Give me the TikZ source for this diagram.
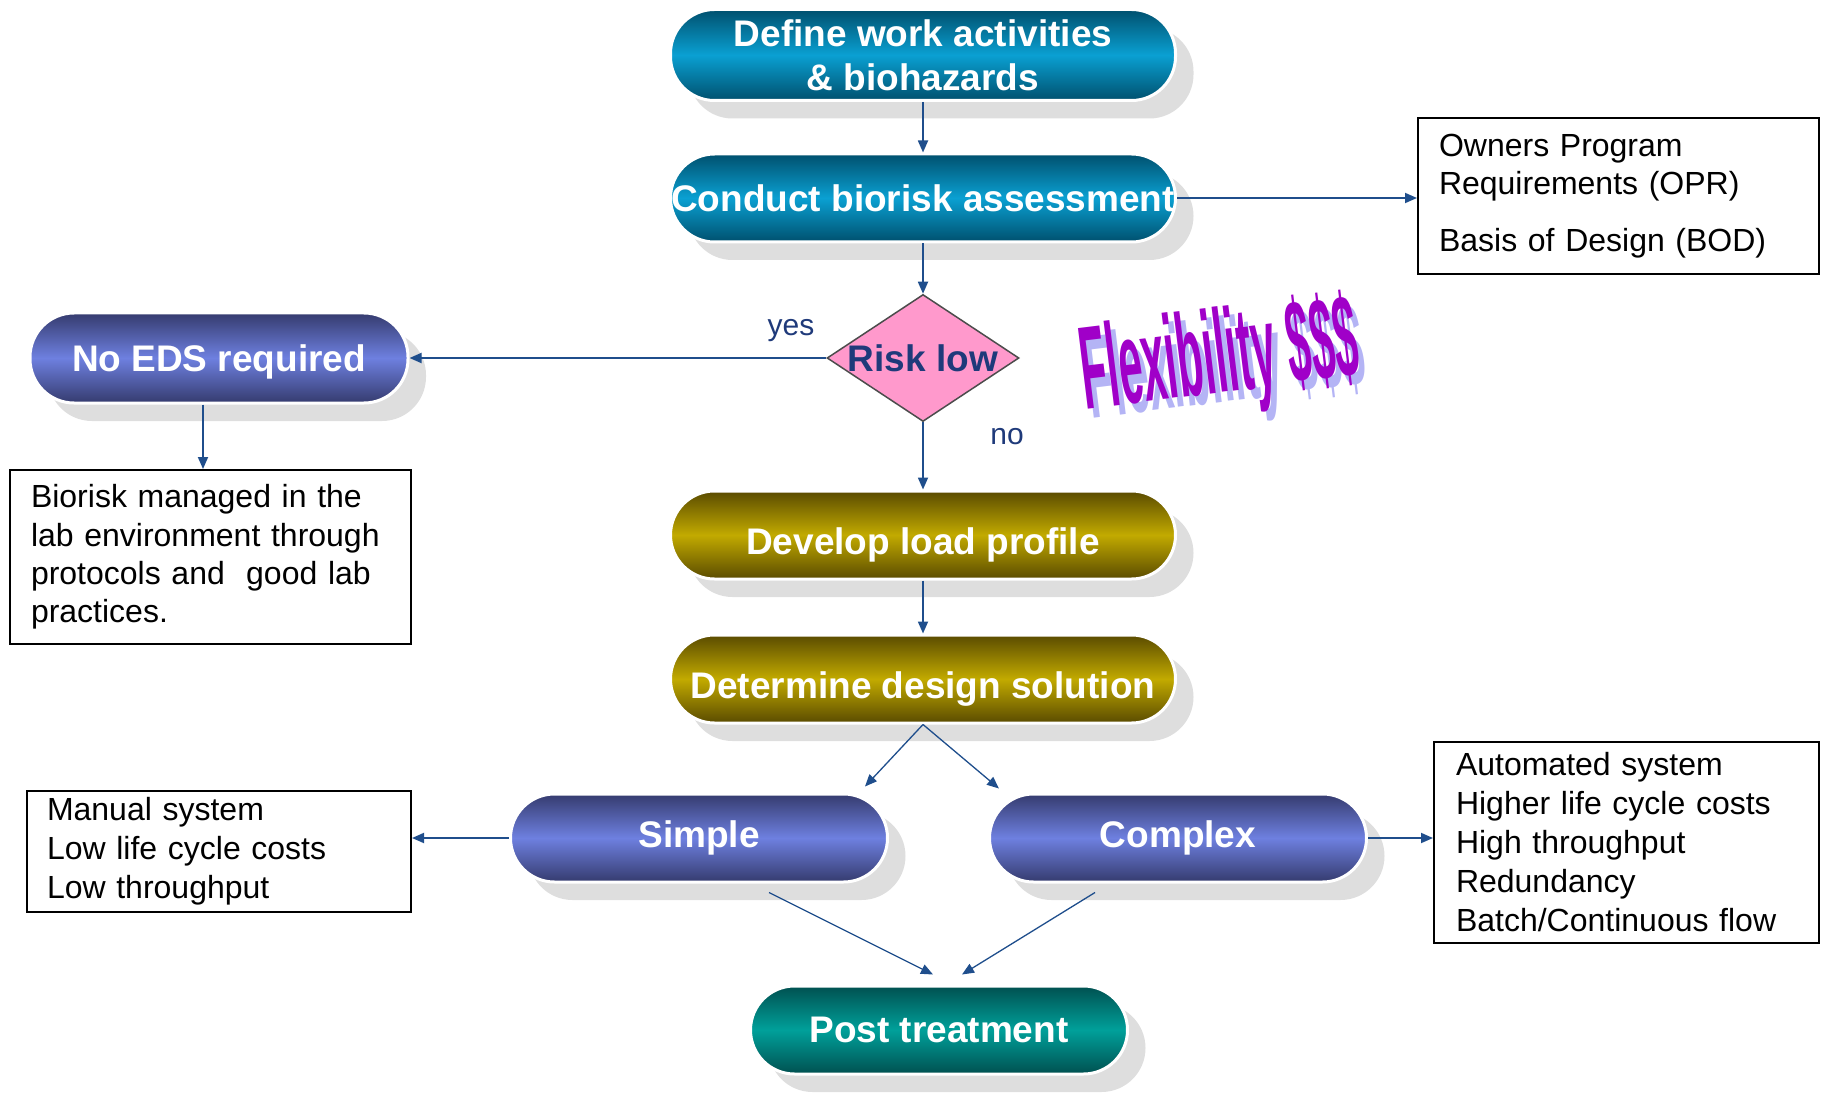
\documentclass[tikz,border=0pt]{standalone}
\usepackage{fontspec}
\setmainfont{Liberation Sans}
\usetikzlibrary{arrows.meta,shadows,shapes.geometric}

\definecolor{arrowblue}{HTML}{1F4E8C}
\definecolor{navytext}{HTML}{1F3A7A}
\definecolor{tealdark}{HTML}{00506E}
\definecolor{teallight}{HTML}{0AA0D2}
\definecolor{bluedark}{HTML}{353B6E}
\definecolor{bluelight}{HTML}{6E80E0}
\definecolor{golddark}{HTML}{5A4B00}
\definecolor{goldlight}{HTML}{C2AA00}
\definecolor{greendark}{HTML}{005050}
\definecolor{greenlight}{HTML}{00A09A}
\definecolor{riskpink}{HTML}{FF99CC}
\definecolor{flexpurple}{HTML}{A000C8}
\definecolor{flexshade}{HTML}{B4B4F5}

\tikzset{
  pill/.style={rectangle, rounded corners=44pt, minimum width=505pt, minimum height=88pt,
    inner sep=0pt, draw=white, line width=3pt, text=white,
    font=\fontsize{37}{44}\selectfont\bfseries,
    drop shadow={shadow xshift=18pt, shadow yshift=-18pt, fill=black!13, opacity=1}},
  tealpill/.style={pill, top color=tealdark, bottom color=tealdark, middle color=teallight},
  bluepill/.style={pill, minimum width=377pt, top color=bluedark, bottom color=bluedark, middle color=bluelight},
  goldpill/.style={pill, top color=golddark, bottom color=golddark, middle color=goldlight},
  greenpill/.style={pill, minimum width=377pt, top color=greendark, bottom color=greendark, middle color=greenlight},
  riskdiamond/.style={diamond, minimum width=192pt, minimum height=127pt, inner sep=0pt,
    fill=riskpink, draw=black!70, line width=1.5pt, text=navytext,
    font=\fontsize{37}{40}\selectfont\bfseries},
  notebox/.style={rectangle, draw=black, line width=2pt, align=left, inner ysep=0pt,
    font=\fontsize{32}{38.5}\selectfont},
  branchlabel/.style={text=navytext, font=\fontsize{30}{30}\selectfont},
  flow/.style={draw=arrowblue, line width=1.8pt, -{Triangle[length=12pt,width=10pt]}},
  thinflow/.style={flow, line width=1.3pt}
}
\newcommand{\lowtext}[1]{\raisebox{-10pt}[\height][\depth]{#1}}

\begin{document}
\begin{tikzpicture}[x=1pt,y=-1pt]
\useasboundingbox (0,0) rectangle (1826,1099);

% main column
\node[tealpill, minimum height=91pt, align=center] (define) at (923,55) {Define work activities\\ \& biohazards};
\node[tealpill] (assess) at (923,198) {Conduct biorisk assessment};
\node[riskdiamond] (risk) at (923,358) {\makebox[0pt]{Risk low}};
\node[goldpill] (profile) at (923,535) {\lowtext{Develop load profile}\hspace{16pt}};
\node[goldpill] (solution) at (923,679) {\lowtext{Determine design solution}\hspace{16pt}};

% branches
\node[bluepill, minimum width=378pt, minimum height=90pt] (noeds) at (219,358) {\raisebox{-4pt}[\height][\depth]{No EDS required}};
\node[bluepill] (simple) at (699,838) {Simple};
\node[bluepill] (complex) at (1178,838) {Complex};
\node[greenpill] (post) at (939,1030) {Post treatment};

% notes
\node[notebox, text width=359pt, inner xsep=21pt, minimum height=156pt] (opr) at (1618.5,196)
  {Owners Program\\ Requirements (OPR)\\[18pt] Basis of Design (BOD)};
\node[notebox, text width=359pt, inner xsep=21pt, minimum height=174pt,
  font=\fontsize{32}{38.4}\selectfont] (labnote) at (210.5,557)
  {Biorisk managed in the\\ lab environment through\\ protocols and\ \ good lab\\ practices.};
\node[notebox, text width=344pt, inner xsep=20pt, minimum height=121pt,
  font=\fontsize{32}{39}\selectfont] (manual) at (219,851.5)
  {Manual system\\ Low life cycle costs\\ Low throughput};
\node[notebox, text width=341pt, inner xsep=22pt, minimum height=201pt,
  font=\fontsize{32}{39}\selectfont] (auto) at (1626.5,842.5)
  {Automated system\\ Higher life cycle costs\\ High throughput\\ Redundancy\\ Batch/Continuous flow};

% word art
\node[rotate=7, text=flexshade, font=\fontsize{118}{118}\selectfont\bfseries] (flexback) at (1226,370)
  {\scalebox{0.36}[1]{Flexibility \$\$\$}};
\node[rotate=7, text=flexpurple, font=\fontsize{118}{118}\selectfont\bfseries] (flex) at (1220,361)
  {\scalebox{0.36}[1]{Flexibility \$\$\$}};

\node[branchlabel] (yes) at (791,331) {yes};
\node[branchlabel] (no) at (1007,437) {no};

% connectors
\draw[flow] (define.south) -- (assess.north);
\draw[flow] (assess.east) -- (assess.east -| opr.west);
\draw[flow] (assess.south) -- (risk.north);
\draw[flow] (risk.west) -- (noeds.east);
\draw[flow] (risk.south) -- (profile.north);
\draw[flow] ([xshift=-16pt]noeds.south) -- ([xshift=-16pt]noeds.south |- labnote.north);
\draw[flow] (profile.south) -- (solution.north);
\draw[thinflow] (solution.south) -- ([shift={(-24,-6)}]simple.north east);
\draw[thinflow] (solution.south) -- ([shift={(11,-4)}]complex.north west);
\draw[flow] (simple.west) -- (simple.west -| manual.east);
\draw[flow] (complex.east) -- (complex.east -| auto.west);
\draw[thinflow] ([shift={(70,9)}]simple.south) -- ([shift={(-6,-10)}]post.north);
\draw[thinflow] ([shift={(-83,9)}]complex.south) -- ([shift={(23,-10)}]post.north);
\end{tikzpicture}
\end{document}
